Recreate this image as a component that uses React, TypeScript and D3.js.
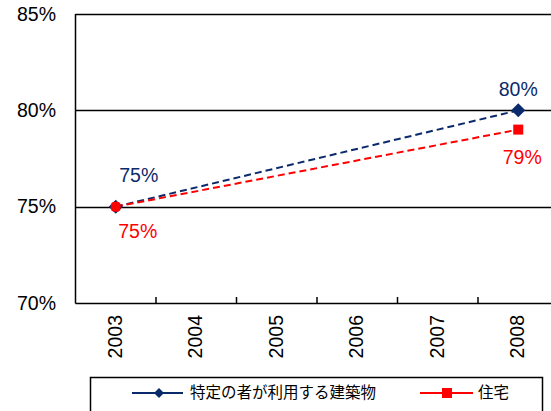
import React from "react";
import * as d3 from "d3";

// Share of buildings by year
const years = ["2003", "2004", "2005", "2006", "2007", "2008"];
const seriesNames = ["特定の者が利用する建築物", "住宅"];
const specificBuildingYears = ["2003", "2008"];
const specificBuildingValues = [0.75, 0.8];
const housingYears = ["2003", "2008"];
const housingValues = [0.75, 0.79];
const yTicks = [0.7, 0.75, 0.8, 0.85];

const W = 551;
const H = 411;
const NAVY = "#0B2A6B";
const RED = "#FF0000";
const FONT = "'Liberation Sans', Arial, sans-serif";
const CJK = "'Noto Sans CJK JP', 'Liberation Sans', sans-serif";

const plot = { left: 75.5, top: 14, bottom: 303, band: 80.5 };

export default function App() {
  const x = d3
    .scaleBand<string>()
    .domain(years)
    .range([plot.left, plot.left + plot.band * years.length]);
  const y = d3.scaleLinear().domain([0.7, 0.85]).range([plot.bottom, plot.top]);
  const cx = (yr: string) => (x(yr) as number) + x.bandwidth() / 2;
  const fmt = d3.format(".0%");

  const navyPts = specificBuildingYears.map((yr, i) => [cx(yr), y(specificBuildingValues[i])] as [number, number]);
  const redPts = housingYears.map((yr, i) => [cx(yr), y(housingValues[i])] as [number, number]);
  const line = d3.line();

  // label offsets relative to each point: [dx, dy]
  const navyLabelOffsets = [[23, -31], [0, -21]];
  const redLabelOffsets = [[22, 25], [4, 27.5]];

  const diamond = (px: number, py: number, r: number) =>
    `M${px},${py - r}L${px + r},${py}L${px},${py + r}L${px - r},${py}Z`;

  return (
    <svg width={W} height={H} style={{ position: "absolute", left: 0, top: 0, background: "#fff" }}>
      {/* gridlines */}
      {yTicks.map((t) => (
        <line key={t} x1={plot.left} x2={W} y1={Math.round(y(t)) + 0.5} y2={Math.round(y(t)) + 0.5} stroke="#000" strokeWidth={1.5} />
      ))}
      {/* left axis */}
      <line x1={plot.left} x2={plot.left} y1={plot.top} y2={plot.bottom + 0.5} stroke="#000" strokeWidth={1.5} />
      {/* category boundary ticks */}
      {years.slice(1).map((yr) => (
        <line key={yr} x1={x(yr)} x2={x(yr)} y1={plot.bottom - 6} y2={plot.bottom} stroke="#000" strokeWidth={1.5} />
      ))}
      {/* y tick labels */}
      {yTicks.map((t) => (
        <text key={t} x={56} y={y(t)} dy="0.35em" textAnchor="end" fontFamily={FONT} fontSize={19.5} fill="#000">
          {fmt(t)}
        </text>
      ))}
      {/* x tick labels */}
      {years.map((yr) => (
        <text
          key={yr}
          transform={`translate(${cx(yr) - 1},${plot.bottom + 12}) rotate(-90)`}
          textAnchor="end"
          dy="0.35em"
          fontFamily={FONT}
          fontSize={19.5}
          fill="#000"
        >
          {yr}
        </text>
      ))}
      {/* series lines */}
      <path d={line(navyPts) as string} fill="none" stroke={NAVY} strokeWidth={2} strokeDasharray="7,4" />
      <path d={line(redPts) as string} fill="none" stroke={RED} strokeWidth={2} strokeDasharray="7,4" />
      {/* markers */}
      {navyPts.map(([px, py], i) => (
        <path key={i} d={diamond(px, py, 7)} fill={NAVY} />
      ))}
      {redPts.map(([px, py], i) => (
        <rect key={i} x={px - 5} y={py - 5} width={10} height={10} rx={i === 0 ? 4 : 0} fill={RED} />
      ))}
      {/* data labels */}
      {navyPts.map(([px, py], i) => (
        <text key={i} x={px + navyLabelOffsets[i][0]} y={py + navyLabelOffsets[i][1]} dy="0.35em" textAnchor="middle" fontFamily={FONT} fontSize={19.5} fill={NAVY}>
          {fmt(specificBuildingValues[i])}
        </text>
      ))}
      {redPts.map(([px, py], i) => (
        <text key={i} x={px + redLabelOffsets[i][0]} y={py + redLabelOffsets[i][1]} dy="0.35em" textAnchor="middle" fontFamily={FONT} fontSize={19.5} fill={RED}>
          {fmt(housingValues[i])}
        </text>
      ))}
      {/* legend */}
      <rect x={90.5} y={377.5} width={452} height={50} fill="#fff" stroke="#000" strokeWidth={1.5} />
      <line x1={132} x2={183} y1={393} y2={393} stroke={NAVY} strokeWidth={2} />
      <path d={diamond(159, 393, 5)} fill={NAVY} />
      <text x={190} y={393} dy="0.35em" fontFamily={CJK} fontSize={15.5} fill="#000">
        {seriesNames[0]}
      </text>
      <line x1={420} x2={473} y1={393} y2={393} stroke={RED} strokeWidth={2} />
      <rect x={442} y={388} width={10} height={10} fill={RED} />
      <text x={478} y={393} dy="0.35em" fontFamily={CJK} fontSize={15.5} fill="#000">
        {seriesNames[1]}
      </text>
    </svg>
  );
}
